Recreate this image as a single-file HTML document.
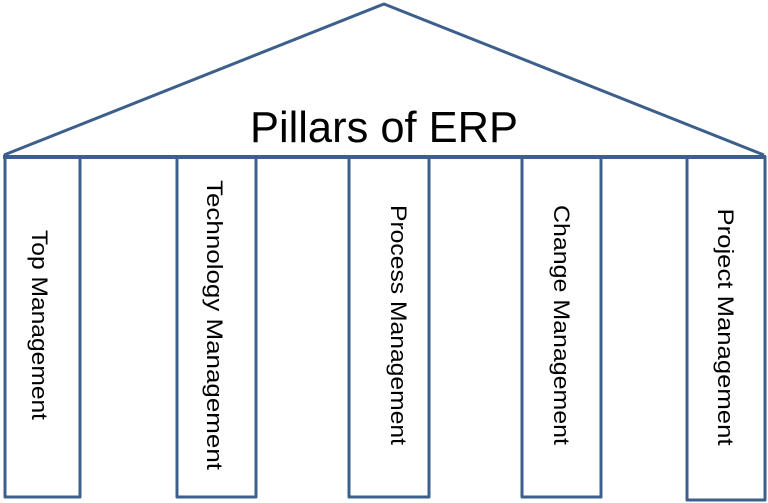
<!DOCTYPE html>
<html><head><style>html,body{margin:0;padding:0;background:#fff;}svg{display:block}</style></head>
<body>
<svg width="768" height="503" viewBox="0 0 768 503" xmlns="http://www.w3.org/2000/svg">
<g fill="none" stroke="#3d5f8c" stroke-width="3" stroke-linejoin="round">
<polyline points="4,155 384,4 764,155"/>
<line x1="3" y1="157" x2="766" y2="157" stroke-width="4"/>
<rect x="5" y="157" width="75" height="340"/>
<rect x="177" y="157" width="79" height="340"/>
<rect x="349" y="157" width="80" height="340"/>
<rect x="522" y="157" width="79" height="340"/>
<rect x="687" y="157" width="78" height="343"/>
</g>
<g font-family="Liberation Sans, sans-serif" fill="#000">
<text x="384" y="142" font-size="44" text-anchor="middle" textLength="268" lengthAdjust="spacingAndGlyphs">Pillars of ERP</text>
<g font-size="22" text-anchor="middle" lengthAdjust="spacingAndGlyphs">
<text transform="translate(32,325) rotate(90)" textLength="190" lengthAdjust="spacingAndGlyphs">Top Management</text>
<text transform="translate(207,325) rotate(90)" textLength="290" lengthAdjust="spacingAndGlyphs">Technology  Management</text>
<text transform="translate(391,325) rotate(90)" textLength="240" lengthAdjust="spacingAndGlyphs">Process Management</text>
<text transform="translate(554,325) rotate(90)" textLength="240" lengthAdjust="spacingAndGlyphs">Change Management</text>
<text transform="translate(718,327) rotate(90)" textLength="237" lengthAdjust="spacingAndGlyphs">Project Management</text>
</g>
</g>
</svg>
</body></html>
